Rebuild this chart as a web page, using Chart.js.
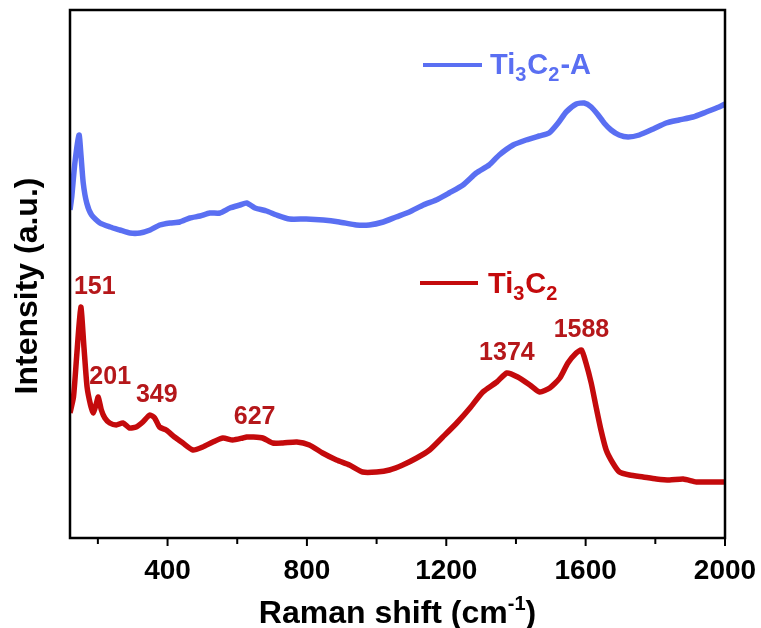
<!DOCTYPE html>
<html>
<head>
<meta charset="utf-8">
<title>Raman spectra</title>
<script src="https://cdn.jsdelivr.net/npm/chart.js@4.4.0/dist/chart.umd.min.js"></script>
<style>
  html, body { margin: 0; padding: 0; background: #fff; }
</style>
</head>
<body>
<canvas id="raman" width="761" height="628"></canvas>
<script>
// Ti3C2-A spectrum (offset upwards)
const shiftA = [120, 125, 134, 146, 151, 158, 168, 182, 206, 235, 263, 292, 321, 350, 378, 407, 435, 464, 493, 521, 550, 579, 608, 627, 651, 684, 713, 750, 798, 847, 893, 942, 979, 1019, 1056, 1094, 1134, 1171, 1208, 1248, 1286, 1323, 1352, 1392, 1429, 1466, 1495, 1521, 1544, 1573, 1596, 1616, 1636, 1653, 1673, 1696, 1722, 1754, 1794, 1831, 1868, 1908, 1946, 1983, 2000];
const intensityA = [328, 341, 375, 403, 385, 355, 335, 323, 315, 311, 308, 305, 305, 308, 313, 315, 316, 320, 322, 325, 325, 330, 333, 335, 330, 327, 323, 319, 319, 318, 316, 313, 313, 316, 321, 326, 333, 338, 345, 353, 365, 373, 383, 393, 398, 402, 405, 415, 426, 434, 435, 431, 423, 415, 408, 403, 401, 403, 409, 415, 418, 421, 426, 431, 434];

// Ti3C2 spectrum
const shiftB = [120, 130, 139, 151, 160, 169, 179, 187, 196, 201, 210, 220, 234, 253, 272, 291, 310, 329, 349, 363, 377, 396, 420, 444, 473, 501, 530, 559, 587, 616, 627, 645, 673, 702, 731, 771, 807, 845, 885, 922, 960, 1000, 1037, 1075, 1115, 1152, 1190, 1230, 1268, 1305, 1345, 1374, 1405, 1440, 1468, 1497, 1526, 1549, 1573, 1588, 1601, 1616, 1630, 1644, 1659, 1678, 1697, 1726, 1765, 1803, 1841, 1880, 1918, 1956, 2000];
const intensityB = [125, 141, 181, 231, 191, 151, 133, 125, 135, 141, 128, 120, 115, 113, 115, 110, 111, 116, 123, 120, 111, 108, 101, 95, 88, 91, 96, 100, 98, 100, 101, 101, 100, 95, 95, 96, 93, 85, 78, 73, 66, 66, 68, 73, 80, 88, 101, 115, 130, 146, 156, 165, 161, 153, 146, 150, 160, 175, 185, 188, 175, 155, 131, 108, 88, 75, 66, 63, 61, 59, 58, 59, 56, 56, 56];

const peakShifts = [151, 201, 349, 627, 1374, 1588];
const xTicks = [200, 400, 600, 800, 1000, 1200, 1400, 1600, 1800, 2000];

const BLUE = '#5a6ff2';
const RED = '#c40a0c';
const FONT = '"Liberation Sans", Arial, sans-serif';

const toPoints = (xs, ys) => xs.map((v, i) => ({ x: v, y: ys[i] }));

// draws a chemical formula with subscripts, returns end x
function drawFormula(ctx, parts, x, baseline, size, color) {
  ctx.fillStyle = color;
  ctx.textBaseline = 'alphabetic';
  ctx.textAlign = 'left';
  parts.forEach(p => {
    const sub = /^\d$/.test(p);
    ctx.font = `bold ${sub ? Math.round(size * 0.7) : size}px ${FONT}`;
    ctx.fillText(p, x, baseline + (sub ? size * 0.25 : 0));
    x += ctx.measureText(p).width + (sub ? 1 : 0);
  });
  return x;
}

const decorations = {
  id: 'decorations',
  afterDatasetsDraw(chart) {
    const { ctx, chartArea: a, scales: { x, y } } = chart;
    ctx.save();

    // frame and bottom ticks
    ctx.strokeStyle = '#000';
    ctx.lineWidth = 2.5;
    ctx.strokeRect(a.left, a.top, a.right - a.left, a.bottom - a.top);
    ctx.lineWidth = 2;
    xTicks.forEach(v => {
      const px = x.getPixelForValue(v);
      const len = v % 400 === 0 ? 8 : 6;
      ctx.beginPath();
      ctx.moveTo(px, a.bottom);
      ctx.lineTo(px, a.bottom + len);
      ctx.stroke();
    });

    // peak positions
    const dx = [14, 12, 7, 8, 0, 0];
    ctx.fillStyle = '#b5171a';
    ctx.font = `bold 25px ${FONT}`;
    ctx.textAlign = 'center';
    ctx.textBaseline = 'middle';
    peakShifts.forEach((s, i) => {
      const k = shiftB.indexOf(s);
      const px = x.getPixelForValue(s);
      const py = y.getPixelForValue(intensityB[k]);
      ctx.fillText(String(s), px + dx[i], py - 20);
    });

    // legend entries
    ctx.lineWidth = 4;
    ctx.strokeStyle = BLUE;
    ctx.beginPath(); ctx.moveTo(423, 65); ctx.lineTo(482, 65); ctx.stroke();
    drawFormula(ctx, ['Ti', '3', 'C', '2', '-A'], 490, 74, 29, BLUE);
    ctx.strokeStyle = RED;
    ctx.beginPath(); ctx.moveTo(420, 283); ctx.lineTo(478, 283); ctx.stroke();
    drawFormula(ctx, ['Ti', '3', 'C', '2'], 488, 293, 29, RED);

    // y axis title
    ctx.save();
    ctx.translate(28, 286);
    ctx.rotate(-Math.PI / 2);
    ctx.fillStyle = '#000';
    ctx.font = `bold 32px ${FONT}`;
    ctx.textAlign = 'center';
    ctx.textBaseline = 'middle';
    ctx.fillText('Intensity (a.u.)', 0, 0);
    ctx.restore();

    // x axis title with superscript
    ctx.fillStyle = '#000';
    ctx.textBaseline = 'alphabetic';
    ctx.textAlign = 'left';
    const main = 'Raman shift (cm', sup = '-1', end = ')';
    ctx.font = `bold 32px ${FONT}`;
    const w1 = ctx.measureText(main).width, w3 = ctx.measureText(end).width;
    ctx.font = `bold 20px ${FONT}`;
    const w2 = ctx.measureText(sup).width;
    let tx = (a.left + a.right) / 2 - (w1 + w2 + w3) / 2;
    const base = 623;
    ctx.font = `bold 32px ${FONT}`;
    ctx.fillText(main, tx, base);
    tx += w1;
    ctx.font = `bold 20px ${FONT}`;
    ctx.fillText(sup, tx, base - 13);
    tx += w2;
    ctx.font = `bold 32px ${FONT}`;
    ctx.fillText(end, tx, base);

    ctx.restore();
  }
};

new Chart(document.getElementById('raman'), {
  type: 'line',
  data: {
    datasets: [
      {
        label: 'Ti3C2-A',
        data: toPoints(shiftA, intensityA),
        borderColor: BLUE,
        borderWidth: 5.5,
        pointRadius: 0,
        tension: 0.2
      },
      {
        label: 'Ti3C2',
        data: toPoints(shiftB, intensityB),
        borderColor: RED,
        borderWidth: 5.5,
        pointRadius: 0,
        tension: 0.2
      }
    ]
  },
  options: {
    responsive: false,
    animation: false,
    layout: { padding: { left: 0, right: 36, top: 10, bottom: 0 } },
    plugins: { legend: { display: false }, tooltip: { enabled: false } },
    scales: {
      x: {
        type: 'linear',
        min: 120,
        max: 2000,
        afterBuildTicks: s => { s.ticks = xTicks.map(v => ({ value: v })); },
        afterFit: s => { s.height = 90; s.paddingLeft = 0; s.paddingRight = 0; },
        grid: { display: false },
        border: { display: false },
        ticks: {
          autoSkip: false,
          maxRotation: 0,
          padding: 8,
          color: '#000',
          font: { family: FONT, size: 28, weight: 'bold' },
          callback: v => (v % 400 === 0 ? v : '')
        }
      },
      y: {
        min: 0,
        max: 528,
        afterFit: s => { s.width = 70; },
        grid: { display: false },
        border: { display: false },
        ticks: { display: false }
      }
    }
  },
  plugins: [decorations]
});
</script>
</body>
</html>
